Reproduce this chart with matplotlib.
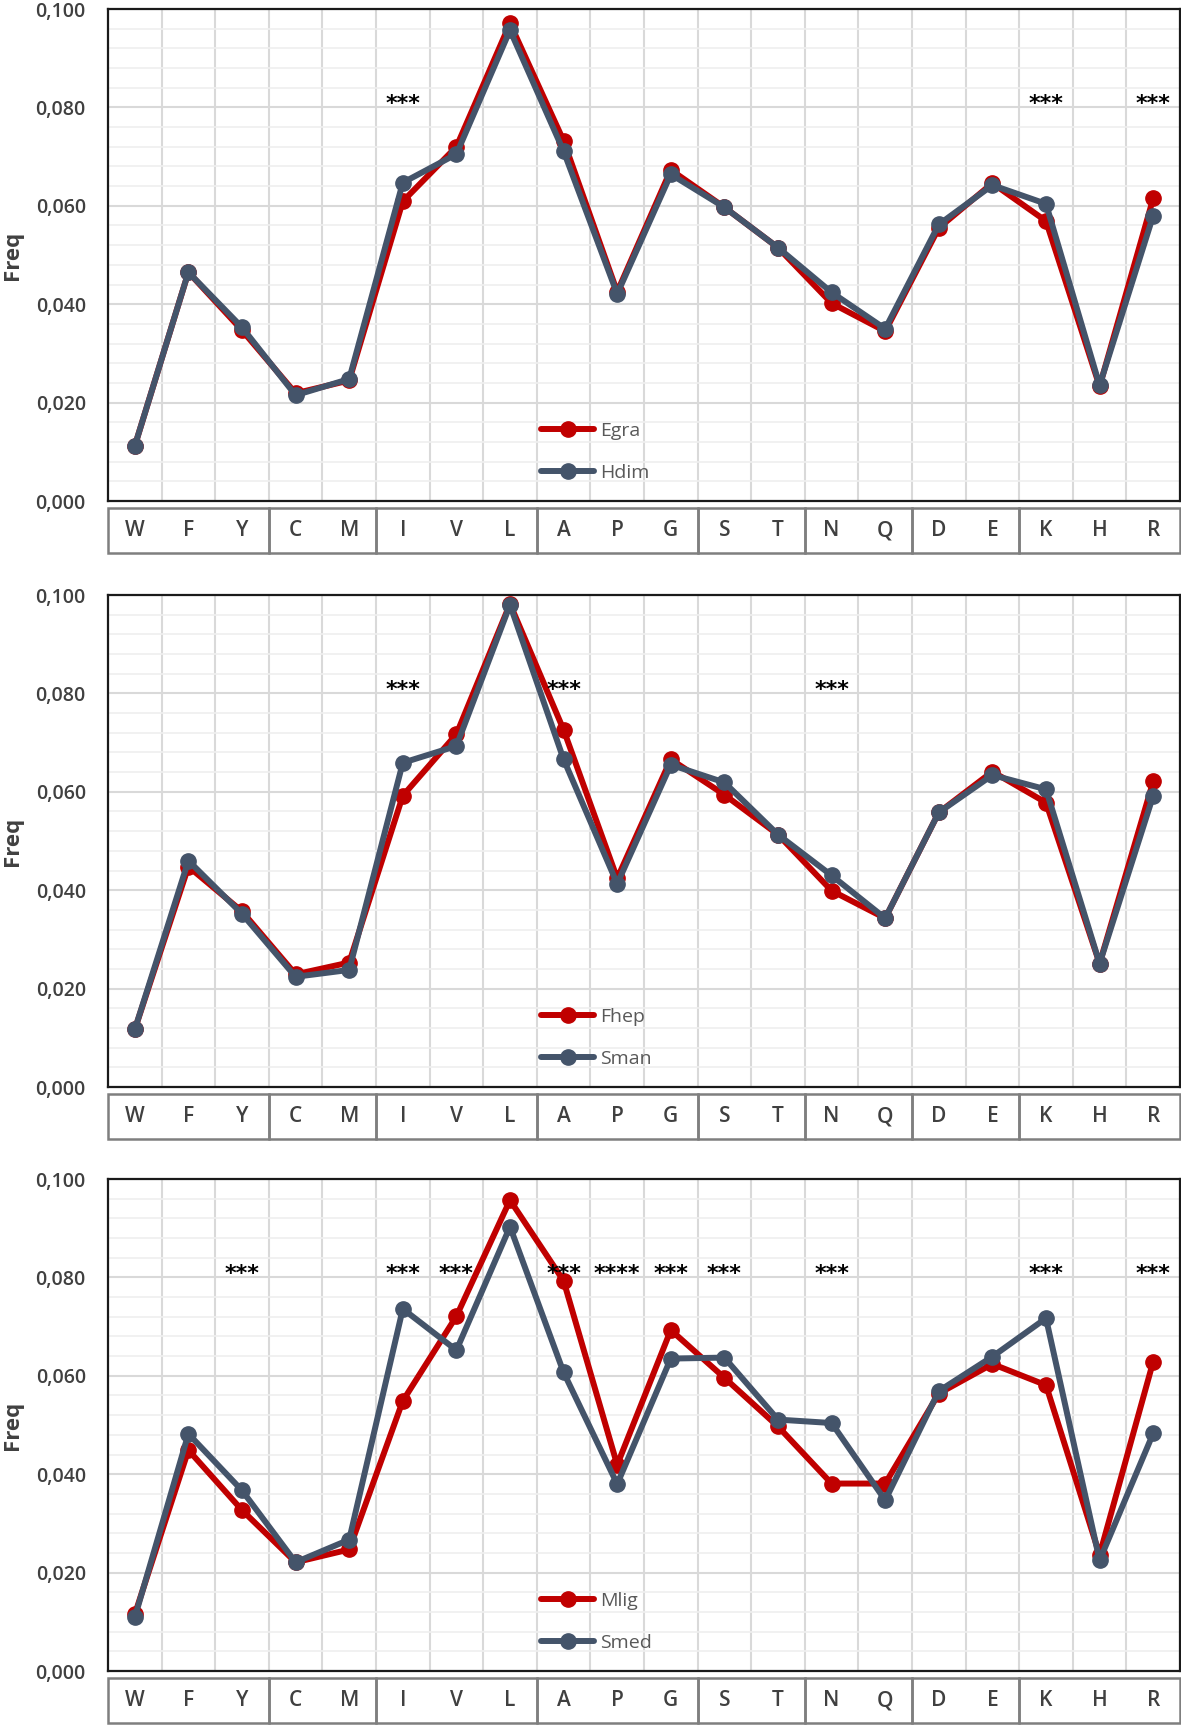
import matplotlib
matplotlib.use("Agg")
import matplotlib.pyplot as plt
from matplotlib.patches import Rectangle
from matplotlib.ticker import MultipleLocator, FuncFormatter

# amino acid categories and their grouping boxes
categories = ["W", "F", "Y", "C", "M", "I", "V", "L", "A", "P",
              "G", "S", "T", "N", "Q", "D", "E", "K", "H", "R"]
group_sizes = [3, 2, 3, 3, 2, 2, 2, 3]

# panel 1
egra = [0.0112, 0.0465, 0.0347, 0.0219, 0.0245, 0.0609, 0.0720, 0.0971, 0.0732, 0.0425,
        0.0673, 0.0597, 0.0515, 0.0402, 0.0345, 0.0555, 0.0646, 0.0569, 0.0233, 0.0615]
hdim = [0.0112, 0.0465, 0.0353, 0.0215, 0.0248, 0.0647, 0.0705, 0.0957, 0.0711, 0.0421,
        0.0664, 0.0597, 0.0515, 0.0424, 0.0350, 0.0562, 0.0642, 0.0604, 0.0235, 0.0580]
stars1 = {"I": "***", "K": "***", "R": "***"}

# panel 2
fhep = [0.0117, 0.0448, 0.0357, 0.0229, 0.0253, 0.0592, 0.0717, 0.0982, 0.0726, 0.0424,
        0.0666, 0.0594, 0.0513, 0.0399, 0.0343, 0.0558, 0.0641, 0.0578, 0.0251, 0.0621]
sman = [0.0117, 0.0460, 0.0352, 0.0224, 0.0238, 0.0659, 0.0693, 0.0980, 0.0666, 0.0413,
        0.0655, 0.0619, 0.0513, 0.0430, 0.0343, 0.0558, 0.0634, 0.0605, 0.0251, 0.0592]
stars2 = {"I": "***", "A": "***", "N": "***"}

# panel 3
mlig = [0.0115, 0.0449, 0.0327, 0.0221, 0.0247, 0.0549, 0.0721, 0.0957, 0.0793, 0.0419,
        0.0693, 0.0596, 0.0497, 0.0381, 0.0381, 0.0564, 0.0624, 0.0581, 0.0236, 0.0629]
smed = [0.0109, 0.0482, 0.0367, 0.0221, 0.0267, 0.0736, 0.0652, 0.0903, 0.0607, 0.0380,
        0.0635, 0.0637, 0.0511, 0.0504, 0.0347, 0.0569, 0.0639, 0.0717, 0.0225, 0.0483]
stars3 = {"Y": "***", "I": "***", "V": "***", "A": "***", "P": "****", "G": "***",
          "S": "***", "N": "***", "K": "***", "R": "***"}

panels = [
    (("Egra", egra), ("Hdim", hdim), stars1),
    (("Fhep", fhep), ("Sman", sman), stars2),
    (("Mlig", mlig), ("Smed", smed), stars3),
]

RED = "#C00000"
BLUE = "#44546A"
TXT = "#404040"

plt.rcParams["font.family"] = ["Open Sans", "DejaVu Sans"]

fig = plt.figure(figsize=(11.81, 17.28), dpi=100)
W, H = 1181, 1728
left, right = 108, 1180
tops = [9, 595, 1179]
plot_h = 492
box_gap, box_h = 6, 47

x = list(range(len(categories)))


def fmt(v, pos):
    return f"{v:.3f}".replace(".", ",")


for (s1, s2, stars), top in zip(panels, tops):
    ax = fig.add_axes([left / W, 1 - (top + plot_h) / H, (right - left) / W, plot_h / H])
    ax.set_xlim(-0.5, len(categories) - 0.5)
    ax.set_ylim(0, 0.1)

    # grid
    ax.yaxis.set_major_locator(MultipleLocator(0.02))
    ax.yaxis.set_minor_locator(MultipleLocator(0.004))
    ax.grid(which="major", axis="y", color="#D9D9D9", lw=1.5, zorder=0)
    ax.grid(which="minor", axis="y", color="#EFEFEF", lw=1.2, zorder=0)
    for i in range(len(categories) - 1):
        ax.axvline(i + 0.5, color="#D9D9D9", lw=1.5, zorder=0)
    ax.set_xticks([])
    ax.yaxis.set_major_formatter(FuncFormatter(fmt))
    ax.tick_params(axis="y", which="both", length=0, pad=16, labelsize=14,
                   labelcolor=TXT)
    for tl in ax.get_yticklabels():
        tl.set_fontweight("semibold")
    for sp in ax.spines.values():
        sp.set_color("#1a1a1a")
        sp.set_linewidth(1.6)
    ax.set_ylabel("Freq", fontsize=16, fontweight="bold", color=TXT)
    ax.yaxis.set_label_coords(-0.079, 0.5)

    for (name, vals), col, z in ((s1, RED, 3), (s2, BLUE, 4)):
        ax.plot(x, vals, color=col, lw=4.3, marker="o", ms=11, label=name,
                zorder=z, solid_capstyle="round")

    for cat, s in stars.items():
        ax.text(categories.index(cat), 0.0806, s, ha="center", va="center",
                fontsize=16, fontweight="bold", color="black", family="DejaVu Sans")

    ax.legend(loc="lower left", bbox_to_anchor=(0.388, 0.004), frameon=False,
              fontsize=14, labelcolor="#595959", handlelength=2.7,
              handletextpad=0.3, labelspacing=1.2, borderpad=0.4)

    # category group boxes
    bx = fig.add_axes([left / W, 1 - (top + plot_h + box_gap + box_h) / H,
                       (right - left) / W, box_h / H])
    bx.set_xlim(-0.5, len(categories) - 0.5)
    bx.set_ylim(0, 1)
    bx.axis("off")
    start = 0
    for g in group_sizes:
        bx.add_patch(Rectangle((start - 0.5, 0.02), g, 0.96, fill=False,
                               edgecolor="#7F7F7F", lw=1.8, clip_on=False))
        start += g
    for i, c in enumerate(categories):
        bx.text(i, 0.5, c, ha="center", va="center", fontsize=15,
                fontweight="semibold", color=TXT)

fig.savefig("out.png", dpi=100)
